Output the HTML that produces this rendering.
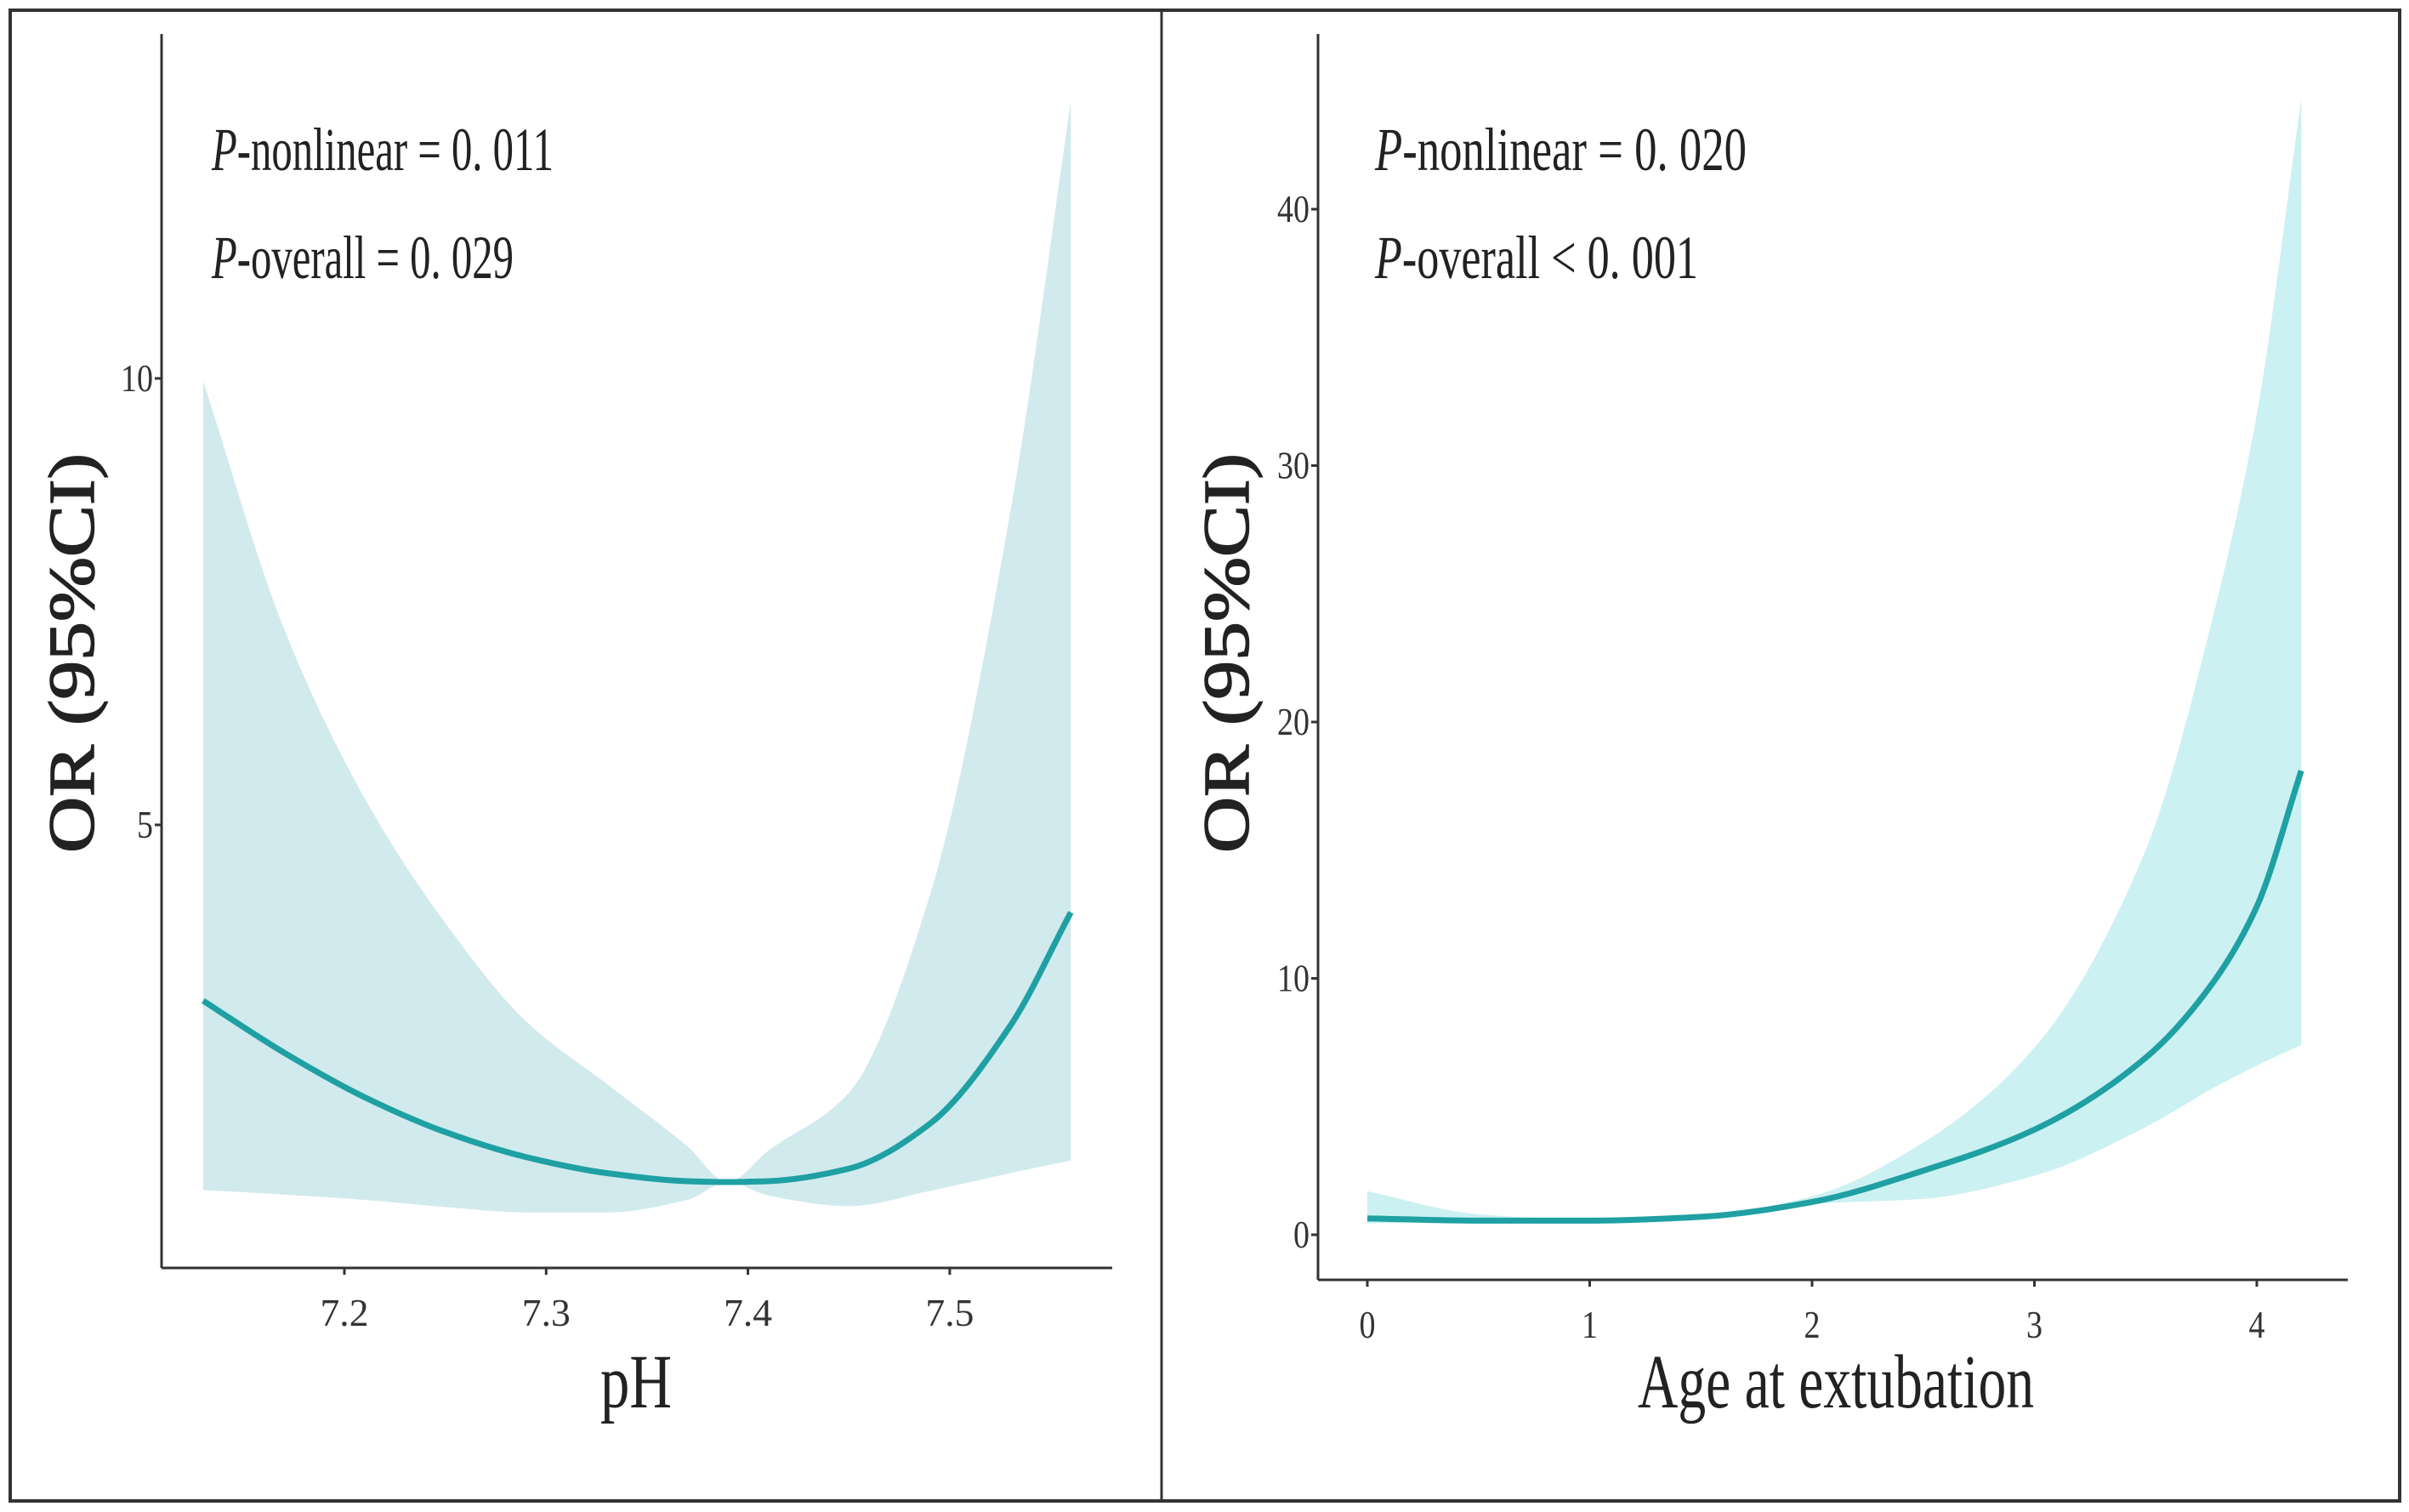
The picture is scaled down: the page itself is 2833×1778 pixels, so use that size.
<!DOCTYPE html>
<html><head><meta charset="utf-8"><style>
html,body{margin:0;padding:0;background:#fff;}
svg{display:block;font-family:"Liberation Serif",serif;}
</style></head><body>
<svg id="fig" width="2833" height="1778" viewBox="0 0 2833 1778" xmlns="http://www.w3.org/2000/svg">
<rect x="0" y="0" width="2833" height="1778" fill="#fff"/>
<rect x="12" y="12" width="2810" height="1753" fill="none" stroke="#333" stroke-width="4"/>
<line x1="1366" y1="12" x2="1366" y2="1765" stroke="#333" stroke-width="3"/>
<g id="p1"></g>
<g id="p2"></g>
</svg>
<script>
// ---- Panel 1: pH ----
const phX = [7.13, 7.17, 7.21, 7.25, 7.29, 7.33, 7.37, 7.39, 7.41, 7.45, 7.49, 7.53, 7.56];
const phOR = [3.03, 2.45, 1.95, 1.56, 1.28, 1.1, 1.01, 1.0, 1.01, 1.15, 1.65, 2.75, 4.02];
const phUpper = [9.97, 7.2, 5.3, 3.9, 2.8, 2.1, 1.4, 1.0, 1.35, 2.0, 4.2, 8.5, 13.1];
const phLower = [0.91, 0.86, 0.8, 0.72, 0.66, 0.66, 0.8, 1.0, 0.85, 0.73, 0.9, 1.1, 1.24];
const phXTicks = [7.2, 7.3, 7.4, 7.5];
const phYTicks = [5, 10];
const phText = ["-nonlinear = 0. 011", "-overall = 0. 029"];

// ---- Panel 2: Age at extubation ----
const ageX = [0, 0.5, 1, 1.5, 2, 2.5, 3, 3.5, 3.8, 4, 4.2];
const ageOR = [0.64, 0.55, 0.55, 0.7, 1.28, 2.5, 4.1, 6.9, 9.8, 12.8, 18.1];
const ageUpper = [1.7, 0.8, 0.6, 0.75, 1.5, 3.6, 7.3, 15.0, 24.0, 32.0, 44.3];
const ageLower = [0.45, 0.45, 0.5, 0.65, 1.2, 1.4, 2.3, 4.2, 5.7, 6.6, 7.4];
const ageXTicks = [0, 1, 2, 3, 4];
const ageYTicks = [0, 10, 20, 30, 40];
const ageText = ["-nonlinear = 0. 020", "-overall < 0. 001"];

const NS = "http://www.w3.org/2000/svg";
function mk(parent, tag, attrs, text) {
  const e = document.createElementNS(NS, tag);
  for (const k in attrs) e.setAttribute(k, attrs[k]);
  if (text !== undefined) e.textContent = text;
  parent.appendChild(e);
  return e;
}
function mono(pts, cont) {
  const n = pts.length, d = [], m = [];
  for (let i = 0; i < n - 1; i++) d.push((pts[i+1][1] - pts[i][1]) / (pts[i+1][0] - pts[i][0]));
  m[0] = d[0]; m[n-1] = d[n-2];
  for (let i = 1; i < n - 1; i++) {
    if (d[i-1] * d[i] <= 0) m[i] = 0;
    else {
      const h0 = pts[i][0] - pts[i-1][0], h1 = pts[i+1][0] - pts[i][0];
      const w1 = 2*h1 + h0, w2 = h1 + 2*h0;
      m[i] = (w1 + w2) / (w1 / d[i-1] + w2 / d[i]);
    }
  }
  let s = (cont ? "L" : "M") + pts[0][0] + "," + pts[0][1];
  for (let i = 0; i < n - 1; i++) {
    const h = (pts[i+1][0] - pts[i][0]) / 3;
    s += " C" + (pts[i][0] + h) + "," + (pts[i][1] + m[i]*h) + " " + (pts[i+1][0] - h) + "," + (pts[i+1][1] - m[i+1]*h) + " " + pts[i+1][0] + "," + pts[i+1][1];
  }
  return s;
}
function monoRev(pts) {
  const mir = pts.map(p => [-p[0], p[1]]).reverse();
  return mono(mir, true).replace(/(-?[\d.]+),(-?[\d.]+)/g, (a, x, y) => (-parseFloat(x)) + "," + y);
}

function panel(g, cfg) {
  const sx = v => cfg.x0 + (v - cfg.xv0) * cfg.xs;
  const sy = v => cfg.y0 - v * cfg.ys;
  const up = cfg.xs_.map((x, i) => [sx(x), sy(cfg.up[i])]);
  const lo = cfg.xs_.map((x, i) => [sx(x), sy(cfg.lo[i])]);
  const band = mk(g, "path", {d: mono(up) + " " + monoRev(lo) + " Z", fill: cfg.band});
  
  
  const line = mk(g, "path", {d: mono(cfg.xs_.map((x, i) => [sx(x), sy(cfg.or[i])])), fill: "none", stroke: "#1fa0a3", "stroke-width": 7});
  
  
  const ya = mk(g, "line", {x1: cfg.ax, y1: 40, x2: cfg.ax, y2: cfg.ay, stroke: "#333", "stroke-width": 3});
  
  
  const xa = mk(g, "line", {x1: cfg.ax, y1: cfg.ay, x2: cfg.axEnd, y2: cfg.ay, stroke: "#333", "stroke-width": 3});
  
  
  cfg.yt.forEach(t => {
    mk(g, "line", {x1: cfg.ax - 8, y1: sy(t), x2: cfg.ax, y2: sy(t), stroke: "#333", "stroke-width": 3});
    const l = mk(g, "text", {x: cfg.ax - 10, y: sy(t) + 15, "text-anchor": "end", "font-size": 46, fill: "#333", textLength: String(t).length * 19, lengthAdjust: "spacingAndGlyphs"}, t);
    
    
  });
  cfg.xt.forEach(t => {
    mk(g, "line", {x1: sx(t), y1: cfg.ay, x2: sx(t), y2: cfg.ay + 8, stroke: "#333", "stroke-width": 3});
    const l = mk(g, "text", {x: sx(t), y: cfg.ay + 68, "text-anchor": "middle", "font-size": 46, fill: "#333", textLength: String(t).length * 19, lengthAdjust: "spacingAndGlyphs"}, t);
    
    
  });
  cfg.txt.forEach((s, i) => {
    const t = mk(g, "text", {x: cfg.tx, y: 200 + i * 127, "font-size": 72, fill: "#222", textLength: cfg.tw[i], lengthAdjust: "spacingAndGlyphs"});
    mk(t, "tspan", {"font-style": "italic"}, "P");
    mk(t, "tspan", {}, s);
    
    
  });
  const yt = mk(g, "text", {x: 0, y: 0, transform: "translate(" + cfg.ytx + ",768) rotate(-90)", "text-anchor": "middle", "font-size": 76, fill: "#222", stroke: "#222", "stroke-width": 1.5, textLength: 470, lengthAdjust: "spacingAndGlyphs"}, "OR (95%CI)");
  
  
  const xt = mk(g, "text", {x: cfg.xtx, y: 1655, "text-anchor": "middle", "font-size": 90, fill: "#222", textLength: cfg.xtw, lengthAdjust: "spacingAndGlyphs"}, cfg.xtitle);
  
  
}

panel(document.getElementById("p1"), {
  x0: 405, xv0: 7.2, xs: 2373, y0: 1495, ys: 105,
  xs_: phX, or: phOR, up: phUpper, lo: phLower, band: "#d1eaee",
  ax: 190, ay: 1491, axEnd: 1308, yt: phYTicks, xt: phXTicks,
  txt: phText, tx: 249, tw: [402, 355], ytx: 110, xtx: 748, xtw: 84, xtitle: "pH"
});
panel(document.getElementById("p2"), {
  x0: 1608, xv0: 0, xs: 261.5, y0: 1452, ys: 30.15,
  xs_: ageX, or: ageOR, up: ageUpper, lo: ageLower, band: "#ccf1f3",
  ax: 1550, ay: 1505, axEnd: 2761, yt: ageYTicks, xt: ageXTicks,
  txt: ageText, tx: 1617, tw: [437, 380], ytx: 1468, xtx: 2159, xtw: 466, xtitle: "Age at extubation"
});
</script>
</body></html>
